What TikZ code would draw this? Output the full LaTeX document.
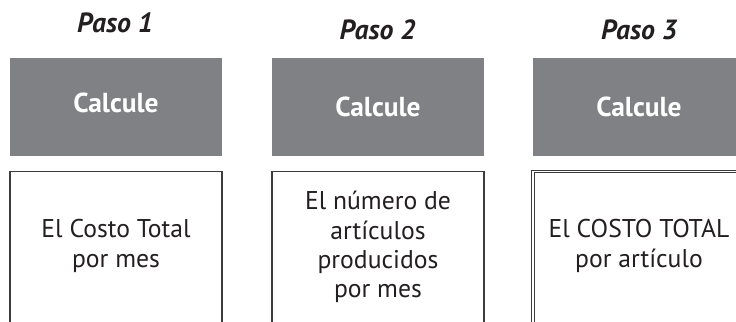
\documentclass[tikz,border=0pt]{standalone}
\usepackage{fontspec}
\setmainfont{PT Sans}
\usetikzlibrary{positioning}
\definecolor{boxgray}{RGB}{128,129,133}
\definecolor{inkdark}{RGB}{35,31,32}
\definecolor{linegray}{RGB}{60,60,62}
\begin{document}
\begin{tikzpicture}[
        font=\fontsize{14.6}{16.6}\selectfont,
        text=inkdark
    ]
    \tikzset{
        stepname/.style = {font=\fontsize{15.8}{18}\selectfont\bfseries\itshape},
        graybox/.style = {rectangle, fill=boxgray, text=white, font=\fontsize{15.6}{18}\selectfont\bfseries, minimum width=4.24cm, minimum height=1.96cm, inner sep=0pt},
        whitebox/.style = {rectangle, draw=linegray, line width=0.7pt, fill=white, anchor=north, minimum width=4.24cm, minimum height=3.4cm},
        bodytext/.style = {align=center, inner sep=0pt},
    }
    \useasboundingbox (0,0) rectangle (14.72,-6.44);
    \clip (0,0) rectangle (14.72,-6.44);
    \node[stepname] (paso1) at (2.30,-0.46) {Paso 1};
    \node[stepname] (paso2) at (7.55,-0.60) {Paso 2};
    \node[stepname] (paso3) at (12.78,-0.60) {Paso 3};
    \node[graybox, text depth=0.16cm] (calc1) at (2.32,-2.14) {Calcule};
    \node[graybox] (calc2) at (7.56,-2.14) {Calcule};
    \node[graybox] (calc3) at (12.78,-2.14) {Calcule};
    \node[whitebox] (box1) at (2.32,-3.42) {};
    \node[whitebox] (box2) at (7.56,-3.42) {};
    \node[whitebox, line width=0.5pt, double=white, double distance=0.8pt] (box3) at (12.78,-3.42) {};
    \node[bodytext] (text1) at ([yshift=-1.5cm]box1.north) {El Costo Total\\por mes};
    \node[bodytext] (text2) at ([yshift=-1.52cm]box2.north) {El número de\\artículos\\producidos\\por mes};
    \node[bodytext] (text3) at ([yshift=-1.5cm]box3.north) {El COSTO TOTAL\\por artículo};
\end{tikzpicture}
\end{document}
